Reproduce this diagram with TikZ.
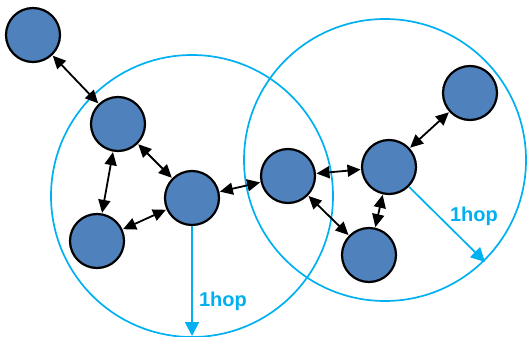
\documentclass[tikz,border=0pt]{standalone}
\usepackage{fontspec}
\setmainfont{Liberation Sans}
\usetikzlibrary{arrows.meta}
\definecolor{nodeblue}{HTML}{4F81BD}
\definecolor{hopcyan}{HTML}{00B0F0}
\begin{document}
\begin{tikzpicture}[x=1pt,y=-1pt,
  dev/.style={circle,draw=black,line width=2.2pt,fill=nodeblue,minimum size=54pt,inner sep=0pt},
  link/.style={{Triangle[length=13pt,width=12pt]}-{Triangle[length=13pt,width=12pt]},line width=1.8pt,black,shorten <=0.5pt,shorten >=0.5pt},
  hoprange/.style={draw=hopcyan,line width=1.7pt},
  hop/.style={-{Triangle[length=14pt,width=14pt]},draw=hopcyan,fill=hopcyan,line width=1.7pt},
  hoplabel/.style={text=hopcyan,font=\fontsize{20}{20}\selectfont\bfseries,inner sep=0pt}]
\useasboundingbox (0,0) rectangle (527,337);
\draw[hoprange] (192,196) circle (141);
\draw[hoprange] (385,160) circle (141);
\node[dev] (n1) at (33,35) {};
\node[dev] (n2) at (118,124) {};
\node[dev] (n3) at (97,241) {};
\node[dev] (n4) at (192,198) {};
\node[dev] (n5) at (288,176) {};
\node[dev] (n6) at (389,167) {};
\node[dev] (n7) at (470,93) {};
\node[dev] (n8) at (369,255) {};
\coordinate (e4) at (192,336);
\coordinate (e6) at (485,262);
\draw[link] (n1) -- (n2);
\draw[link] (n2) -- (n3);
\draw[link] (n2) -- (n4);
\draw[link] (n3) -- (n4);
\draw[link] (n4) -- (n5);
\draw[link] (n5) -- (n6);
\draw[link] (n5) -- (n8);
\draw[link] (n6) -- (n8);
\draw[link] (n6) -- (n7);
\draw[hop] (n4) -- (e4);
\draw[hop] (n6) -- (e6);
\node[hoplabel] (l4) at (223,301) {1hop};
\node[hoplabel] (l6) at (474,216) {1hop};
\end{tikzpicture}
\end{document}
